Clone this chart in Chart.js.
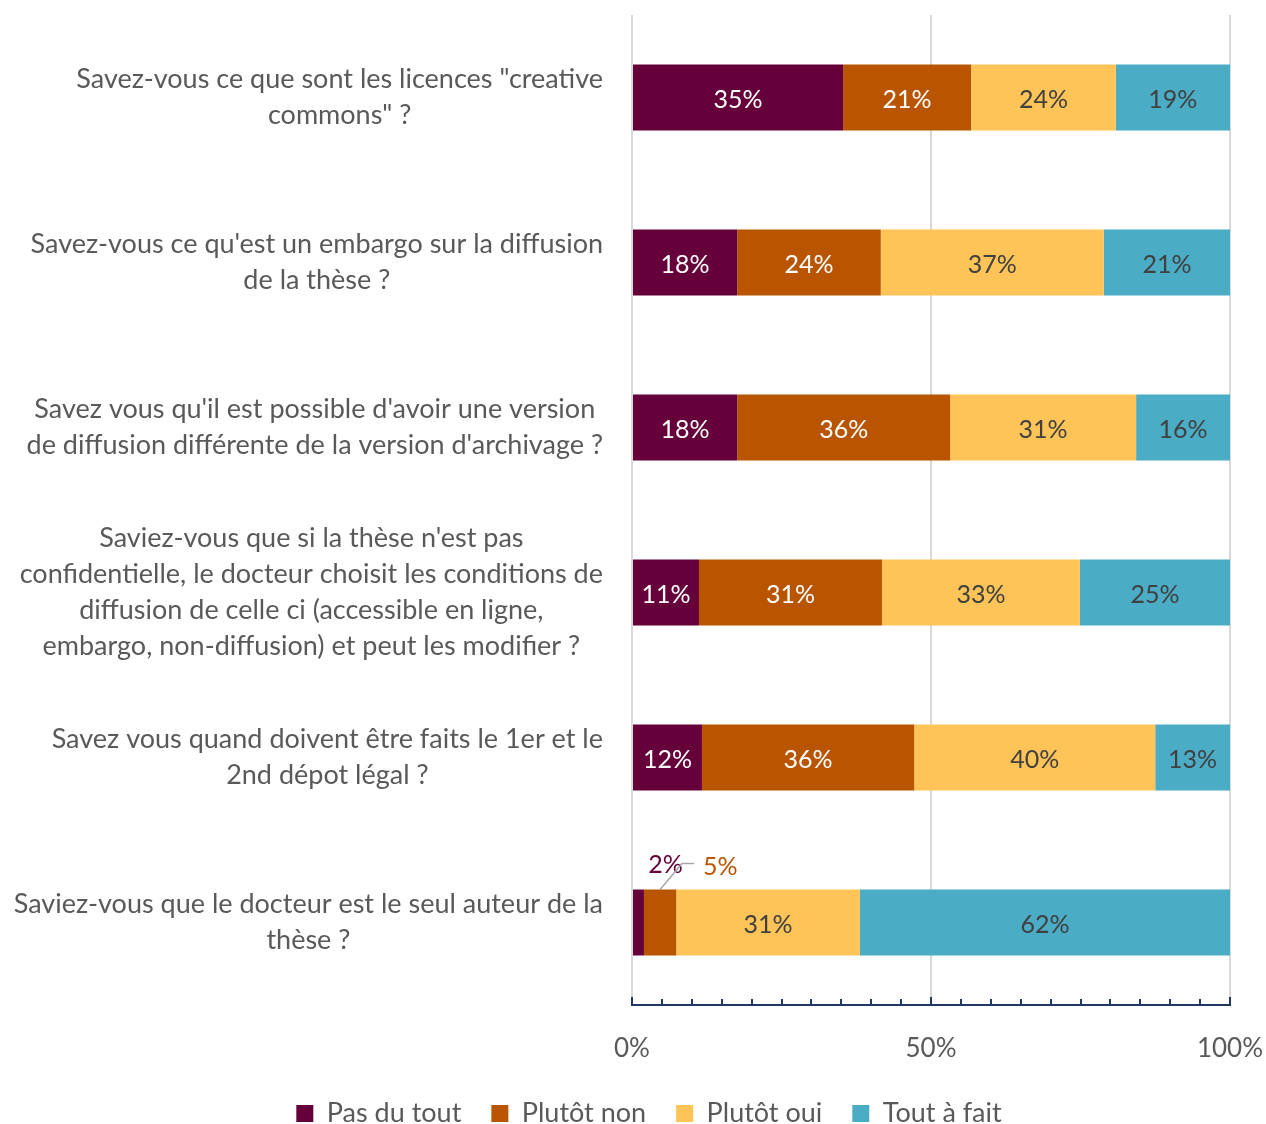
<!DOCTYPE html>
<html>
<head>
<meta charset="utf-8">
<script src="https://cdn.jsdelivr.net/npm/chart.js@4"></script>
<style>
  html, body { margin: 0; padding: 0; background: #fff; }
  #wrap { width: 1266px; height: 1124px; position: relative; }
</style>
</head>
<body>
<div id="wrap"><canvas id="myChart"></canvas></div>
<script>
// categories (questions), one array of lines per label
const questions = [
  ["Savez-vous ce que sont les licences \"creative", "commons\" ?"],
  ["Savez-vous ce qu'est un embargo sur la diffusion", "de la thèse ?"],
  ["Savez vous qu'il est possible d'avoir une version", "de diffusion différente de la version d'archivage ?"],
  ["Saviez-vous que si la thèse n'est pas", "confidentielle, le docteur choisit les conditions de", "diffusion de celle ci (accessible en ligne,", "embargo, non-diffusion) et peut les modifier ?"],
  ["Savez vous quand doivent être faits le 1er et le", "2nd dépot légal ?"],
  ["Saviez-vous que le docteur est le seul auteur de la", "thèse ?"]
];

// series values (percent of answers)
const pasDuTout  = [35.3, 17.6, 17.6, 11.2, 11.7, 2.0];
const plutotNon  = [21.4, 24.0, 35.6, 30.6, 35.5, 5.4];
const plutotOui  = [24.2, 37.3, 31.1, 33.1, 40.3, 30.7];
const toutAFait  = [19.1, 21.1, 15.7, 25.1, 12.5, 61.9];

const seriesNames = ["Pas du tout", "Plutôt non", "Plutôt oui", "Tout à fait"];
const seriesColors = ["#66003A", "#B95500", "#FFC457", "#4BACC6"];
const labelColors = ["#ffffff", "#ffffff", "#404040", "#404040"];

const xTicks = [0, 50, 100];

const FONT = "Lato";

// question labels: each block right-aligned to the axis, lines centred inside the block
const questionLabels = {
  id: "questionLabels",
  afterDraw(chart) {
    const ctx = chart.ctx;
    const yScale = chart.scales.y;
    const right = chart.chartArea.left - 29;
    const lh = 36;
    ctx.save();
    ctx.font = "27px " + FONT;
    ctx.fillStyle = "#595959";
    ctx.textAlign = "center";
    ctx.textBaseline = "middle";
    chart.data.labels.forEach((lines, i) => {
      const y = yScale.getPixelForValue(i);
      const w = Math.max(...lines.map((l) => ctx.measureText(l).width));
      const cx = right - w / 2;
      const y0 = y - ((lines.length - 1) * lh) / 2;
      lines.forEach((l, k) => ctx.fillText(l, cx, y0 + k * lh));
    });
    ctx.restore();
  }
};

// value labels inside the bars (small ones go above with a leader line)
const valueLabels = {
  id: "valueLabels",
  afterDatasetsDraw(chart) {
    const ctx = chart.ctx;
    ctx.save();
    ctx.font = "25px " + FONT;
    ctx.textBaseline = "middle";
    chart.data.datasets.forEach((ds, di) => {
      const meta = chart.getDatasetMeta(di);
      meta.data.forEach((bar, i) => {
        const v = ds.data[i];
        const txt = Math.round(v) + "%";
        const w = Math.abs(bar.x - bar.base);
        const cx = (bar.x + bar.base) / 2;
        if (w > 40) {
          ctx.fillStyle = labelColors[di];
          ctx.textAlign = "center";
          ctx.fillText(txt, cx, bar.y + 2);
        } else {
          const top = bar.y - bar.height / 2;
          ctx.fillStyle = seriesColors[di];
          if (di === 0) {
            ctx.textAlign = "center";
            ctx.fillText(txt, cx + 27, top - 25);
          } else {
            ctx.strokeStyle = "#A6A6A6";
            ctx.lineWidth = 1.5;
            ctx.beginPath();
            ctx.moveTo(cx, top);
            ctx.lineTo(cx + 22, top - 26);
            ctx.lineTo(cx + 34, top - 26);
            ctx.stroke();
            ctx.textAlign = "left";
            ctx.fillText(txt, cx + 43, top - 23);
          }
        }
      });
    });
    ctx.restore();
  }
};

// small tick marks along the bottom axis every 5%
const minorTicks = {
  id: "minorTicks",
  afterDraw(chart) {
    const ctx = chart.ctx;
    const x = chart.scales.x;
    const y0 = chart.chartArea.bottom;
    ctx.save();
    ctx.strokeStyle = "#1F3864";
    ctx.lineWidth = 2;
    for (let v = 0; v <= 100; v += 5) {
      const px = Math.round(x.getPixelForValue(v));
      const len = v % 50 === 0 ? 8 : 6;
      ctx.beginPath();
      ctx.moveTo(px, y0);
      ctx.lineTo(px, y0 - len);
      ctx.stroke();
    }
    ctx.restore();
  }
};

// nudge the legend a bit to the right, like in the original
const legendShift = {
  id: "legendShift",
  afterLayout(chart) {
    chart.legend.left += 34;
    chart.legend.right += 34;
  }
};

const datasets = [pasDuTout, plutotNon, plutotOui, toutAFait].map((vals, i) => ({
  label: seriesNames[i],
  data: vals,
  backgroundColor: seriesColors[i],
  borderWidth: 0,
  barPercentage: 0.8,
  categoryPercentage: 0.5
}));

const config = {
  type: "bar",
  data: { labels: questions, datasets },
  options: {
    indexAxis: "y",
    responsive: false,
    animation: false,
    layout: { padding: { top: 15, right: 36, left: 0, bottom: -13 } },
    scales: {
      x: {
        stacked: true,
        min: 0,
        max: 100,
        afterBuildTicks(scale) {
          scale.ticks = xTicks.map((v) => ({ value: v }));
        },
        afterFit(scale) {
          scale.height = 65;
          scale.paddingLeft = 0;
          scale.paddingRight = 0;
        },
        grid: { color: "#D9D9D9", lineWidth: 2, drawTicks: false },
        border: { color: "#1F3864", width: 2 },
        ticks: {
          padding: 28,
          color: "#595959",
          font: { family: FONT, size: 26 },
          maxRotation: 0,
          callback: (v) => v + "%"
        }
      },
      y: {
        stacked: true,
        afterFit(scale) {
          scale.width = 632;
          scale.paddingTop = 0;
          scale.paddingBottom = 0;
        },
        grid: { display: false, drawTicks: false },
        border: { display: false },
        ticks: { display: false }
      }
    },
    plugins: {
      legend: {
        position: "bottom",
        labels: {
          boxWidth: 17,
          boxHeight: 17,
          padding: 30,
          color: "#595959",
          font: { family: FONT, size: 27 }
        }
      },
      tooltip: { enabled: false }
    }
  },
  plugins: [valueLabels, minorTicks, questionLabels, legendShift]
};

const canvas = document.getElementById("myChart");
canvas.width = 1266;
canvas.height = 1124;
const myChart = new Chart(canvas, config);
</script>
</body>
</html>
